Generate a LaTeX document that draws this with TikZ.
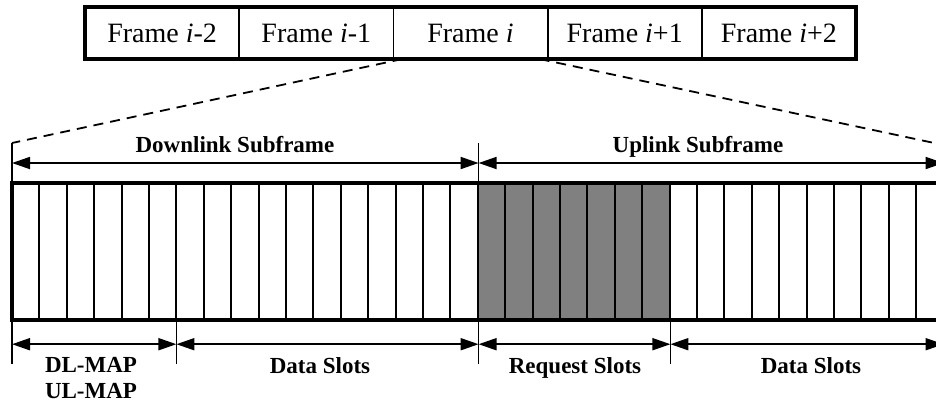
\documentclass[tikz,border=0pt]{standalone}
\usepackage{fontspec}
\setmainfont{Liberation Serif}
\usetikzlibrary{arrows.meta,positioning,calc}

\begin{document}
\begin{tikzpicture}[x=0.5pt,y=-0.5pt,
  framecell/.style={draw, line width=0.9pt, outer sep=0pt, inner sep=0pt, minimum width=77.1pt, minimum height=26pt, font=\fontsize{14}{16}\selectfont},
  span/.style={{Triangle[length=9pt,width=6pt]}-{Triangle[length=9pt,width=6pt]}, line width=0.9pt},
  tick/.style={line width=0.7pt},
  slotline/.style={line width=0.95pt},
  zoomline/.style={line width=0.9pt, dash pattern=on 5pt off 3.5pt},
  lbl/.style={font=\bfseries\fontsize{11.5}{13}\selectfont, inner sep=0pt},
]
\clip (0,0) rectangle (936,403);

% frame sequence
\node[framecell] (fi) at (470.5,33) {Frame \textit{i}};
\node[framecell, left=0pt of fi] (fim1) {Frame \textit{i}-1};
\node[framecell, left=0pt of fim1] (fim2) {Frame \textit{i}-2};
\node[framecell, right=0pt of fi] (fip1) {Frame \textit{i}+1};
\node[framecell, right=0pt of fip1] (fip2) {Frame \textit{i}+2};
\draw[line width=2pt] (fim2.north west) rectangle (fip2.south east);

% subframe boundaries
\def\slotw{27.4}
\coordinate (dlup) at (12,143);
\coordinate (ulup) at (478.6,143);
\coordinate (endup) at (943.6,145);

\draw[zoomline] ($(fi.south west)+(9,0)$) -- (dlup);
\draw[zoomline] ($(fi.south east)+(-8,0)$) -- (endup);

% slots
\fill[gray] (478.6,183) rectangle (670.4,320);
\foreach \k in {1,...,33}
  \draw[slotline] (12+\k*\slotw,183) -- (12+\k*\slotw,320);
\draw[line width=1.8pt] (960,183) -- (12,183) -- (12,320) -- (960,320);

% dimension ticks
\draw[tick] (dlup) -- (12,183);
\draw[tick] (ulup) -- (478.6,183);
\foreach \x/\n in {12/a,176.4/b,478.6/c,670.4/d,943.6/e}
  \draw[tick] (\x,320) -- (\x,364) coordinate[pos=0.55] (lo\n);
\coordinate (hia) at (12,163);
\coordinate (hib) at (478.6,163);
\coordinate (hic) at (943.6,163);

% spans
\draw[span] (hia) -- (hib);
\draw[span] (hib) -- (hic);
\draw[span] (loa) -- (lob);
\draw[span] (lob) -- (loc);
\draw[span] (loc) -- (lod);
\draw[span] (lod) -- (loe);

% labels
\node[lbl, anchor=base] (dllbl) at (235,152) {Downlink Subframe};
\node[lbl, anchor=base] (ullbl) at (698,152) {Uplink Subframe};
\node[lbl, anchor=north, align=center] (maplbl) at (91,357) {DL-MAP\\UL-MAP};
\node[lbl, anchor=base] (dldata) at (320,373) {Data Slots};
\node[lbl, anchor=base] (reqlbl) at (575,373) {Request Slots};
\node[lbl, anchor=base] (uldata) at (811,373) {Data Slots};
\end{tikzpicture}
\end{document}
